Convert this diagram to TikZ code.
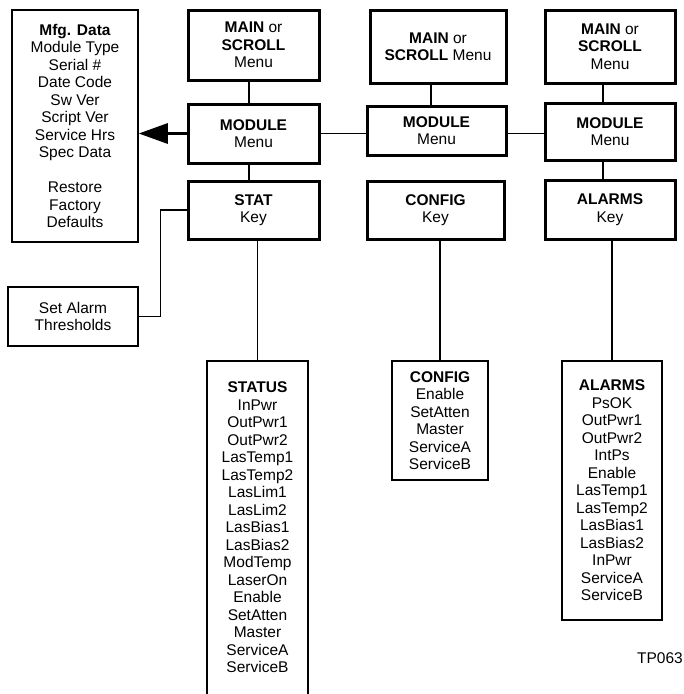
\documentclass[tikz,border=0pt]{standalone}
\usepackage{fontspec}
\setmainfont{Liberation Sans}
\usetikzlibrary{arrows.meta}
\begin{document}
\begin{tikzpicture}[x=1pt,y=-1pt,
  every node/.style={font=\fontsize{15.5}{17.5}\selectfont, align=center, inner sep=0pt},
  menubox/.style={draw, line width=3pt, minimum width=#1},
  listbox/.style={draw, line width=1.5pt},
  conn/.style={line width=1.5pt}]
\useasboundingbox (0,0) rectangle (684,694);
% left boxes
\node[listbox, minimum width=126pt, minimum height=232pt] (mfg) at (75,126)
  {\textbf{Mfg. Data}\\Module Type\\Serial \#\\Date Code\\Sw Ver\\Script Ver\\Service Hrs\\Spec Data\\[17.5pt]Restore\\Factory\\Defaults};
\node[listbox, minimum width=130pt, minimum height=59pt] (set) at (73,316.5) {Set Alarm\\Thresholds};
% column 1
\node[menubox=131pt, minimum height=70pt] (m1) at (253.5,45) {\textbf{MAIN} or\\\textbf{SCROLL}\\Menu};
\node[menubox=131pt, minimum height=59pt] (mod1) at (253.5,133.5) {\textbf{MODULE}\\Menu};
\node[menubox=131pt, minimum height=58pt] (stat) at (253.5,210) {\textbf{STAT}\\Key};
% column 2
\node[menubox=136pt, minimum height=73pt] (m2) at (438,46.5) {\textbf{MAIN} or\\\textbf{SCROLL} Menu};
\node[menubox=139pt, minimum height=49pt] (mod2) at (436.5,130.5) {\textbf{MODULE}\\Menu};
\node[menubox=137pt, minimum height=58pt] (ck) at (435.5,210) {\textbf{CONFIG}\\Key};
% column 3
\node[menubox=130pt, minimum height=73pt] (m3) at (610,46.5) {\textbf{MAIN} or\\\textbf{SCROLL}\\Menu};
\node[menubox=130pt, minimum height=57pt] (mod3) at (610,131.5) {\textbf{MODULE}\\Menu};
\node[menubox=130pt, minimum height=59pt] (ak) at (610,209.5) {\textbf{ALARMS}\\Key};
% lists
\node[minimum width=101pt, minimum height=333pt] (status) at (257.5,527.5)
  {\textbf{STATUS}\\InPwr\\OutPwr1\\OutPwr2\\LasTemp1\\LasTemp2\\LasLim1\\LasLim2\\LasBias1\\LasBias2\\ModTemp\\LaserOn\\Enable\\SetAtten\\Master\\ServiceA\\ServiceB};
\draw[line width=1.5pt] (status.south west) -- (status.north west) -- (status.north east) -- (status.south east);
\node[listbox, minimum width=96pt, minimum height=119pt] (cl) at (440,420.5)
  {\textbf{CONFIG}\\Enable\\SetAtten\\Master\\ServiceA\\ServiceB};
\node[listbox, minimum width=100pt, minimum height=259pt] (al) at (612,490.5)
  {\textbf{ALARMS}\\PsOK\\OutPwr1\\OutPwr2\\IntPs\\Enable\\LasTemp1\\LasTemp2\\LasBias1\\LasBias2\\InPwr\\ServiceA\\ServiceB};
\node (tp) at (660,658) {TP063};
% connectors
\draw[conn] ([xshift=-4.5pt]m1.south) -- ([xshift=-4.5pt]mod1.north);
\draw[conn] ([xshift=-4.5pt]mod1.south) -- ([xshift=-4.5pt]stat.north);
\draw[conn] (stat.south -| status.north) -- (status.north);
\draw[conn] (stat.west) -- ++(-26,0) |- (set.east);
\draw[line width=3pt, -{Triangle[length=29pt,width=20pt]}] (mod1.west) -- (mod1.west -| mfg.east);
\draw[conn] (mod1.east) -- (mod1.east -| mod2.west);
\draw[conn] (mod1.east -| mod2.east) -- (mod1.east -| mod3.west);
\draw[conn] ([xshift=-7pt]m2.south) -- ([xshift=-5.5pt]mod2.north);
\draw[conn] (ck.south -| cl.north) -- (cl.north);
\draw[conn] ([xshift=-7pt]m3.south) -- ([xshift=-7pt]mod3.north);
\draw[conn] ([xshift=-7pt]mod3.south) -- ([xshift=-7pt]ak.north);
\draw[conn] (ak.south -| al.north) -- (al.north);
\end{tikzpicture}
\end{document}
